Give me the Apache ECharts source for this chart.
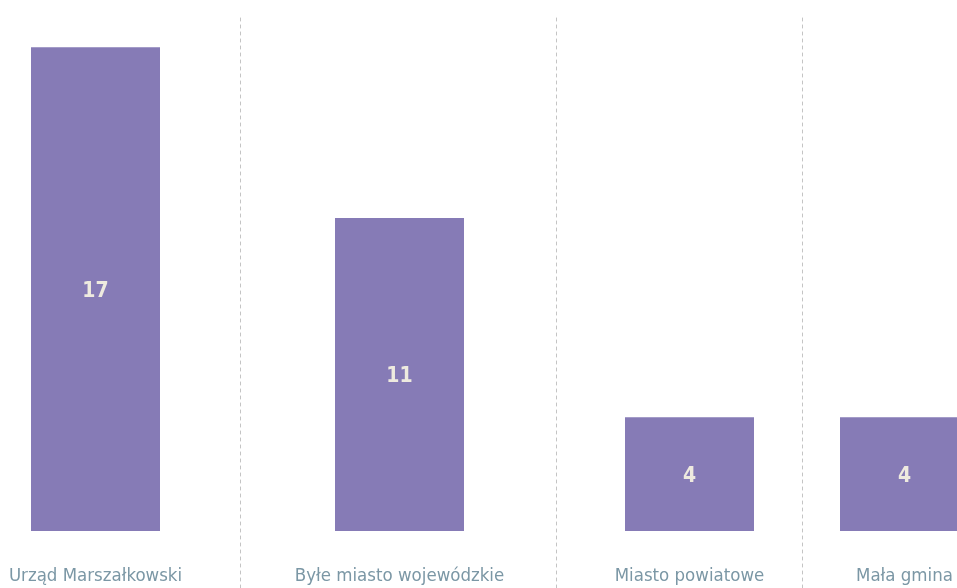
<!DOCTYPE html>
<html lang="pl">
<head>
    <meta charset="UTF-8">
    <title>Bar</title>
    <style>
        html, body { margin: 0; padding: 0; background: #fff; }
    </style>
</head>
<body>
    <div id="main" style="width: 957px;height:588px;"></div>
    <script src="https://cdn.jsdelivr.net/npm/echarts@6/dist/echarts.min.js"></script>
    <script>
        // dane
        var categories = ['Urząd Marszałkowski', 'Byłe miasto wojewódzkie', 'Miasto powiatowe', 'Mała gmina'];
        var values = [17, 11, 4, 4];

        // układ kolumn (środek słupka i pozycja kreskowanej linii po lewej)
        var barCenters = [95.5, 399.5, 689.5, 904.5];
        var separators = [null, 240, 556, 802];
        var barW = 129;

        var font = '"Liberation Sans Narrow", "DejaVu Sans Condensed", sans-serif';

        var grids = [], xAxes = [], yAxes = [], series = [];
        categories.forEach(function (name, i) {
            var left = barCenters[i] - barW / 2;
            grids.push({ left: left, width: barW, top: 16, bottom: 0, outerBoundsMode: 'none', containLabel: false });
            xAxes.push({
                type: 'category',
                gridIndex: i,
                data: [name],
                offset: -57,
                axisLine: { show: false, onZero: false },
                axisTick: { show: false },
                axisLabel: {
                    margin: 36,
                    fontSize: 18.5,
                    fontFamily: font,
                    color: '#7b97a5'
                }
            });
            yAxes.push({
                type: 'value',
                gridIndex: i,
                min: -2,
                max: 18.1,
                offset: separators[i] == null ? 0 : left - separators[i],
                axisLine: {
                    show: separators[i] != null,
                    lineStyle: { color: '#c4c4c4', width: 1, type: [3, 4] }
                },
                axisTick: { show: false },
                axisLabel: { show: false },
                splitLine: { show: false }
            });
            series.push({
                type: 'bar',
                xAxisIndex: i,
                yAxisIndex: i,
                barWidth: barW,
                data: [values[i]],
                itemStyle: { color: '#867bb6' },
                label: {
                    show: true,
                    position: 'inside',
                    offset: [0, 2],
                    fontSize: 21,
                    fontWeight: 'bold',
                    fontFamily: font,
                    color: '#eeeadf'
                },
                silent: true
            });
        });

        var myChart = echarts.init(document.getElementById('main'));
        var option = {
            animation: false,
            grid: grids,
            xAxis: xAxes,
            yAxis: yAxes,
            series: series
        };
        myChart.setOption(option);
    </script>
</body>
</html>
